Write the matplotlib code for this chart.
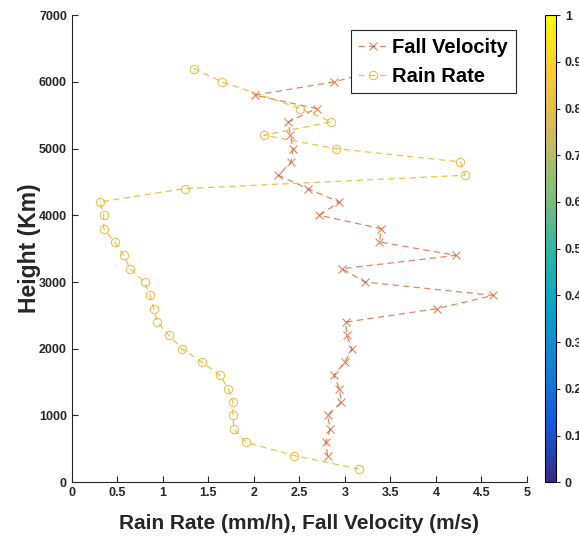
import matplotlib
matplotlib.use('Agg')
import matplotlib.pyplot as plt
import numpy as np
from matplotlib.colors import LinearSegmentedColormap
from matplotlib.ticker import FuncFormatter

plt.rcParams['font.family'] = ['Liberation Sans', 'DejaVu Sans']
plt.rcParams['font.weight'] = 'bold'

# data
fv_height = [6200, 6000, 5800, 5600, 5400, 5200, 5000, 4800, 4600, 4400,
             4200, 4000, 3800, 3600, 3400, 3200, 3000, 2800, 2600, 2400,
             2200, 2000, 1800, 1600, 1400, 1200, 1000, 800, 600, 400]
fall_velocity = [3.45, 2.88, 2.01, 2.69, 2.38, 2.40, 2.43, 2.41, 2.27, 2.59,
                 2.94, 2.72, 3.40, 3.38, 4.22, 2.97, 3.22, 4.63, 4.01, 3.01,
                 3.02, 3.08, 3.00, 2.88, 2.94, 2.96, 2.81, 2.84, 2.79, 2.81]

rr_height = [6200, 6000, 5600, 5400, 5200, 5000, 4800, 4600, 4400, 4200,
             4000, 3800, 3600, 3400, 3200, 3000, 2800, 2600, 2400, 2200,
             2000, 1800, 1600, 1400, 1200, 1000, 800, 600, 400, 200]
rain_rate = [1.34, 1.65, 2.51, 2.85, 2.11, 2.90, 4.27, 4.32, 1.24, 0.31,
             0.35, 0.35, 0.47, 0.57, 0.64, 0.80, 0.86, 0.90, 0.94, 1.07,
             1.21, 1.43, 1.63, 1.72, 1.77, 1.77, 1.78, 1.91, 2.44, 3.15]

parula = LinearSegmentedColormap.from_list('parula', [
    '#352a87', '#0f5cdd', '#1481d6', '#06a4ca', '#2eb7a4',
    '#87bf77', '#d1bb59', '#fec832', '#f9fb0e'])

fig = plt.figure(figsize=(5.79, 5.40), dpi=100)
ax = fig.add_axes([0.124, 0.107, 0.786, 0.865])

ax.plot(fall_velocity, fv_height, '--x', color='#D95319', alpha=0.7,
        lw=0.9, ms=5.5, mew=0.8, dashes=(5, 3.5), label='Fall Velocity')
ax.plot(rain_rate, rr_height, '--o', color='#EDB120', alpha=0.8,
        lw=0.9, ms=6, mew=0.8, mfc='none', dashes=(5, 3.5),
        label='Rain Rate')

ax.set_xlim(0, 5)
ax.set_ylim(0, 7000)
ax.set_xticks(np.arange(0, 5.01, 0.5))
ax.set_yticks(np.arange(0, 7001, 1000))
ax.xaxis.set_major_formatter(FuncFormatter(lambda v, p: '%g' % v))
ax.tick_params(direction='in', length=4, width=0.8, labelsize=9,
               colors='#262626')
for t in ax.get_xticklabels() + ax.get_yticklabels():
    t.set_fontweight('bold')
ax.spines['top'].set_visible(False)
ax.spines['right'].set_visible(False)
for s in ('left', 'bottom'):
    ax.spines[s].set_color('#262626')
    ax.spines[s].set_linewidth(0.8)

ax.set_xlabel('Rain Rate (mm/h), Fall Velocity (m/s)', fontsize=15,
              fontweight='bold', color='#262626')
ax.xaxis.set_label_coords(0.5, -0.067)
ax.set_ylabel('Height (Km)', fontsize=16.5, fontweight='bold',
              color='#262626')
ax.yaxis.set_label_coords(-0.068, 0.5)

leg = ax.legend(loc='upper right', bbox_to_anchor=(0.976, 0.968),
                prop={'size': 14.5, 'weight': 'bold'}, fancybox=False,
                framealpha=1, edgecolor='#262626', handlelength=1.5,
                handletextpad=0.2, borderpad=0.38, labelspacing=0.5,
                borderaxespad=0.0)
leg.get_frame().set_linewidth(0.8)

cax = fig.add_axes([0.941, 0.107, 0.019, 0.865])
sm = plt.cm.ScalarMappable(cmap=parula, norm=plt.Normalize(0, 1))
cb = fig.colorbar(sm, cax=cax, ticks=np.arange(0, 1.01, 0.1))
cb.ax.yaxis.set_major_formatter(FuncFormatter(lambda v, p: '%g' % round(v, 1)))
cb.ax.tick_params(labelsize=9, length=3, width=0.8, colors='#262626')
for t in cb.ax.get_yticklabels():
    t.set_fontweight('bold')
cb.outline.set_linewidth(0.8)

fig.savefig('out.png', dpi=100)
